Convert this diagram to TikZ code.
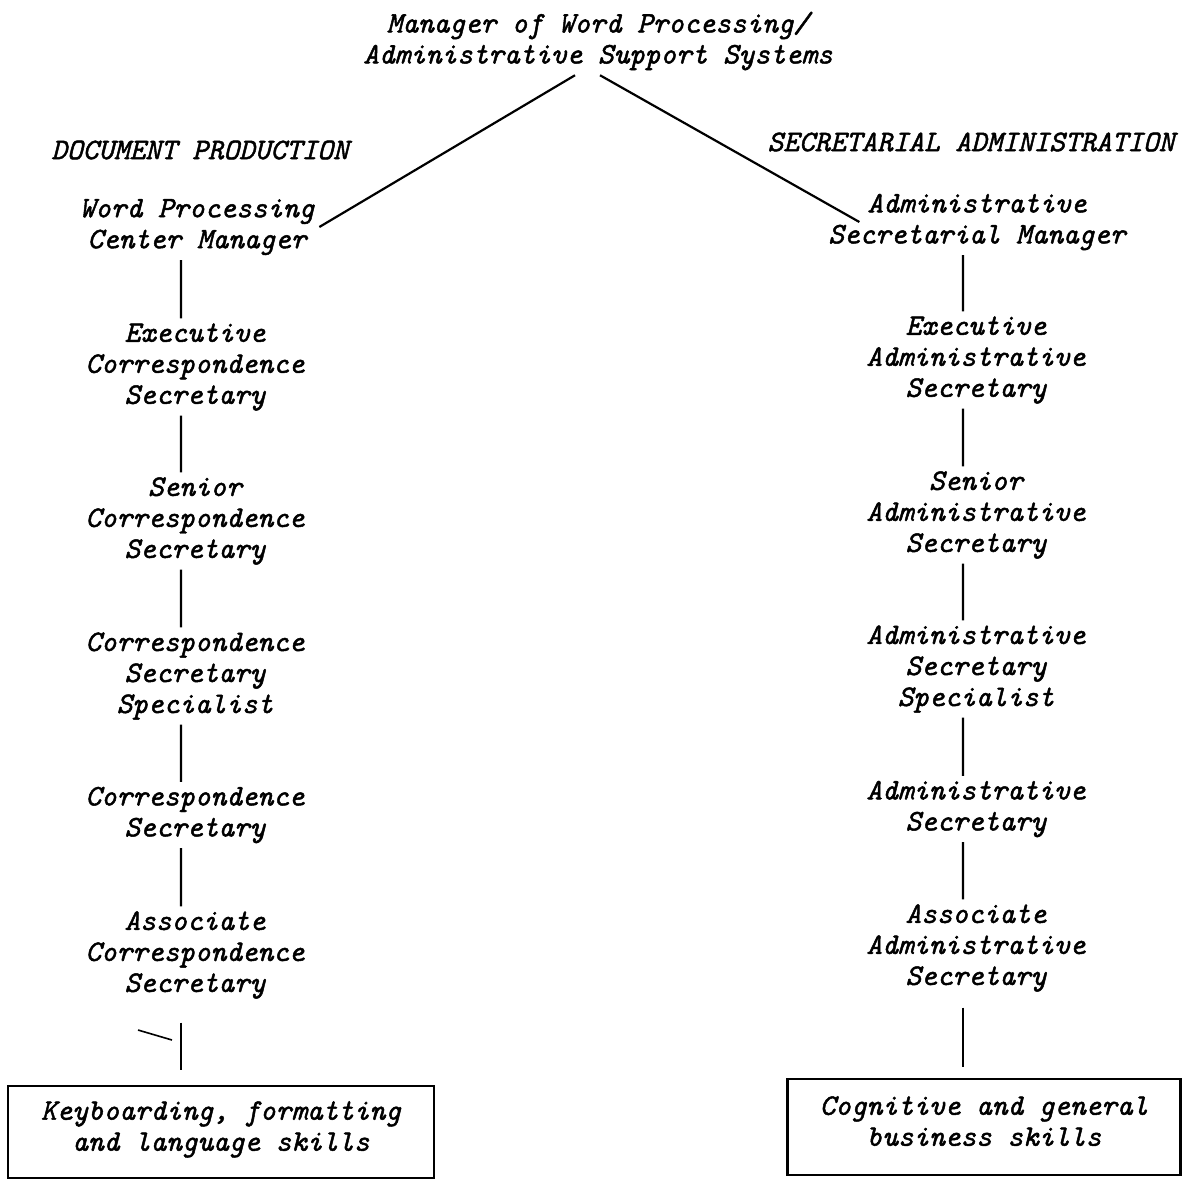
\documentclass[tikz,border=0pt]{standalone}
\usepackage{fontspec}
\usepackage{tikz}

\setmonofont{Latin Modern Mono}[ItalicFeatures={FakeBold=1.6}]
\newcommand\typist{\ttfamily\itshape\fontsize{14.9}{15.5}\selectfont}

\tikzset{
  post/.style={font=\typist, align=center, inner sep=0pt, outer sep=2.5pt},
  skillbox/.style={post, draw, line width=1.3pt, outer sep=0pt},
  rung/.style={line width=1.1pt},
}

\begin{document}
\begin{tikzpicture}[x=0.5pt, y=-0.5pt]
\useasboundingbox (0,0) rectangle (1183,1180);

\path
 (598,41)  node[post] (top)  {Manager of Word Processing/\\Administrative Support Systems}
 (200,150) node[post] (docprod) {DOCUMENT PRODUCTION}
 (971,142) node[post] (secadm)  {SECRETARIAL ADMINISTRATION}
 (181,0)   coordinate (lcol)
 (963,0)   coordinate (rcol)
;

\path
 (197,227) node[post] (wpcm) {Word Processing\\Center Manager}
 (195,367) node[post] (ecs)  {Executive\\Correspondence\\Secretary}
 (195,521) node[post] (scs)  {Senior\\Correspondence\\Secretary}
 (195,676) node[post] (css)  {Correspondence\\Secretary\\Specialist}
 (195,815) node[post] (cs)   {Correspondence\\Secretary}
 (195,955) node[post] (acs)  {Associate\\Correspondence\\Secretary}
 (221,1132) node[skillbox, minimum width=213pt, minimum height=46pt, text depth=6pt] (lbox)
   {Keyboarding, formatting\\and language skills}
;

\path
 (977,222) node[post] (asm) {Administrative\\Secretarial Manager}
 (976,360) node[post] (eas) {Executive\\Administrative\\Secretary}
 (976,515) node[post] (sas) {Senior\\Administrative\\Secretary}
 (976,669) node[post] (ass) {Administrative\\Secretary\\Specialist}
 (976,809) node[post] (as)  {Administrative\\Secretary}
 (976,948) node[post] (aas) {Associate\\Administrative\\Secretary}
 (984,1127) node[skillbox, minimum width=196.5pt, minimum height=48pt, text depth=6pt] (rbox)
   {Cognitive and general\\business skills}
;

\draw[rung]
   ([xshift=-11.5pt]top.south) -- (wpcm.east)
   ([xshift=1pt]top.south) -- ([xshift=18pt]asm.west)
   (wpcm.south -| lcol) -- (ecs.north -| lcol)
   (ecs.south -| lcol)  -- (scs.north -| lcol)
   (scs.south -| lcol)  -- (css.north -| lcol)
   (css.south -| lcol)  -- (cs.north -| lcol)
   (cs.south -| lcol)   -- (acs.north -| lcol)
   (asm.south -| rcol)  -- (eas.north -| rcol)
   (eas.south -| rcol)  -- (sas.north -| rcol)
   (sas.south -| rcol)  -- (ass.north -| rcol)
   (ass.south -| rcol)  -- (as.north -| rcol)
   (as.south -| rcol)   -- (aas.north -| rcol)
;
\draw[rung, shorten <=9.5pt, shorten >=8pt] (acs.south -| lcol) -- (lbox.north -| lcol);
\draw[rung, shorten <=5.5pt, shorten >=6pt] (aas.south -| rcol) -- (rbox.north -| rcol);
\draw[line width=0.8pt] (138,1030) -- (172,1040);
\end{tikzpicture}
\end{document}
